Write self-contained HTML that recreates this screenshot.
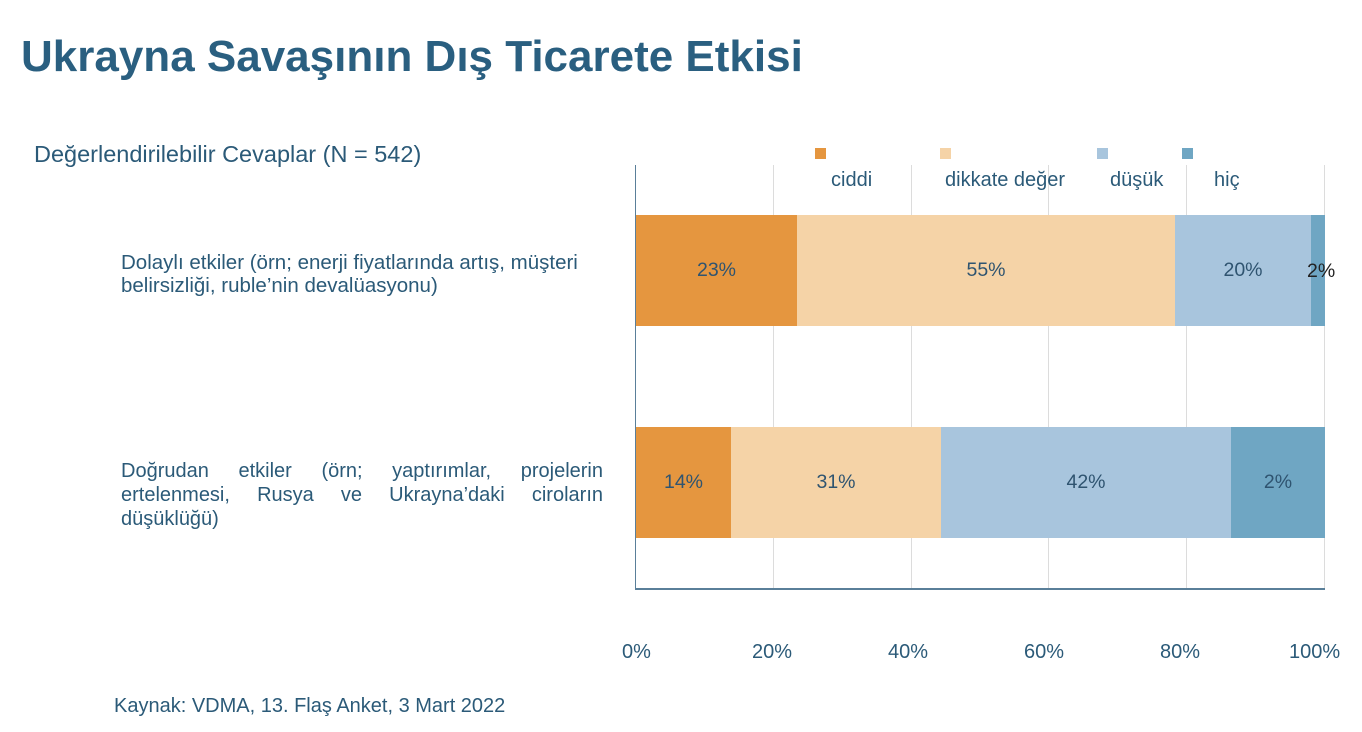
<!DOCTYPE html>
<html><head><meta charset="utf-8"><style>
body{margin:0;width:1362px;height:732px;background:#fff;font-family:"Liberation Sans",sans-serif;color:#2b5a78;position:relative;overflow:hidden}
.a{position:absolute;white-space:nowrap}
.t{font-size:20px;color:#2b5a78}
.seg{position:absolute;display:flex;align-items:center;justify-content:center;font-size:19.5px;color:#2f5470}
.g{position:absolute;top:165px;height:423px;width:1px;background:#dcdcdc}
.sq{position:absolute;width:11px;height:11px;top:148px}
.j{position:absolute;left:121px;width:482px;font-size:20px;text-align:justify;text-align-last:justify;white-space:nowrap}
</style></head><body>
<div class="a" style="left:21px;top:32px;font-size:44px;font-weight:bold;color:#2a5f80">Ukrayna Savaşının Dış Ticarete Etkisi</div>
<div class="a" style="left:34px;top:141px;font-size:23.5px">Değerlendirilebilir Cevaplar (N = 542)</div>
<div class="a t" style="left:121px;top:251px;line-height:23px;font-size:20.5px">Dolaylı etkiler (örn; enerji fiyatlarında artış, müşteri<br>belirsizliği, ruble’nin devalüasyonu)</div>
<div class="j" style="top:460px">Doğrudan etkiler (örn; yaptırımlar, projelerin</div>
<div class="j" style="top:484px">ertelenmesi, Rusya ve Ukrayna’daki ciroların</div>
<div class="a t" style="left:121px;top:508px">düşüklüğü)</div>
<div class="g" style="left:773px"></div><div class="g" style="left:911px"></div><div class="g" style="left:1048px"></div><div class="g" style="left:1186px"></div><div class="g" style="left:1324px"></div>
<div style="position:absolute;left:635px;top:165px;width:1px;height:424px;background:#5a7f99"></div>
<div style="position:absolute;left:635px;top:588px;width:690px;height:2px;background:#5a7f99"></div>
<div class="sq" style="left:815px;background:#e5963f"></div>
<div class="sq" style="left:940px;background:#f5d3a7"></div>
<div class="sq" style="left:1097px;background:#a8c5dd"></div>
<div class="sq" style="left:1182px;background:#6fa6c3"></div>
<div class="a t" style="left:831px;top:169px">ciddi</div>
<div class="a t" style="left:945px;top:169px">dikkate değer</div>
<div class="a t" style="left:1110px;top:169px">düşük</div>
<div class="a t" style="left:1214px;top:169px">hiç</div>
<div class="seg" style="left:636px;top:215px;width:161px;height:111px;background:#e5963f">23%</div>
<div class="seg" style="left:797px;top:215px;width:378px;height:111px;background:#f5d3a7">55%</div>
<div class="seg" style="left:1175px;top:215px;width:136px;height:111px;background:#a8c5dd">20%</div>
<div class="seg" style="left:1311px;top:215px;width:14px;height:111px;background:#6fa6c3"></div>
<div class="a" style="left:1307px;top:260px;font-size:19.5px;color:#222">2%</div>
<div class="seg" style="left:636px;top:427px;width:95px;height:111px;background:#e5963f">14%</div>
<div class="seg" style="left:731px;top:427px;width:210px;height:111px;background:#f5d3a7">31%</div>
<div class="seg" style="left:941px;top:427px;width:290px;height:111px;background:#a8c5dd">42%</div>
<div class="seg" style="left:1231px;top:427px;width:94px;height:111px;background:#6fa6c3">2%</div>
<div class="a t" style="left:622px;top:641px">0%</div>
<div class="a t" style="left:752px;top:641px">20%</div>
<div class="a t" style="left:888px;top:641px">40%</div>
<div class="a t" style="left:1024px;top:641px">60%</div>
<div class="a t" style="left:1160px;top:641px">80%</div>
<div class="a t" style="left:1289px;top:641px">100%</div>
<div class="a t" style="left:114px;top:695px">Kaynak: VDMA, 13. Flaş Anket, 3 Mart 2022</div>
</body></html>
